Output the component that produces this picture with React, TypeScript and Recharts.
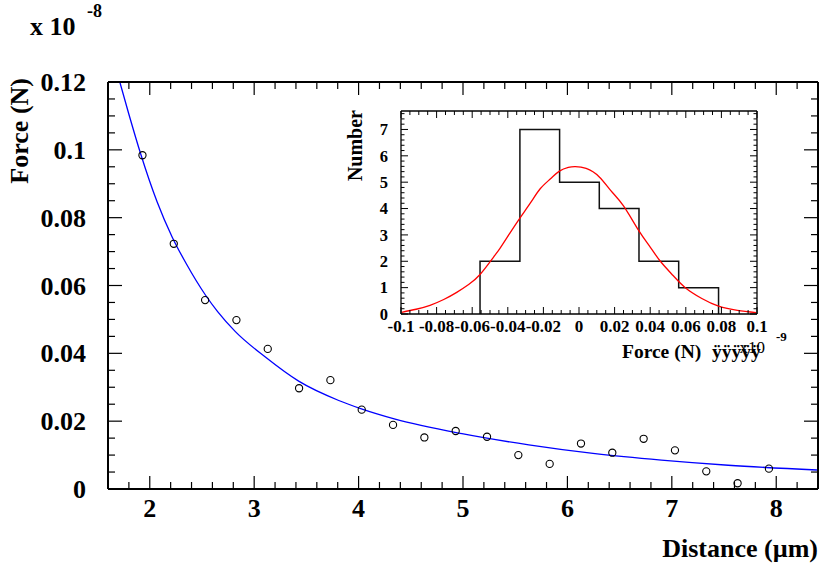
import React from 'react';
import { ComposedChart, Line, Scatter, XAxis, YAxis, Label } from 'recharts';

const FONT = '"Liberation Serif", "Times New Roman", Times, serif';

// ---------- Main chart data ----------
const distance = [1.93, 2.23, 2.53, 2.83, 3.13, 3.43, 3.73, 4.03, 4.33, 4.63, 4.93, 5.23, 5.53, 5.83, 6.13, 6.43, 6.73, 7.03, 7.33, 7.63, 7.93];
const force = [0.0984, 0.0723, 0.0557, 0.0498, 0.0413, 0.0297, 0.0321, 0.0234, 0.0189, 0.0152, 0.0171, 0.0154, 0.0100, 0.0074, 0.0134, 0.0107, 0.0148, 0.0114, 0.0052, 0.0017, 0.0060];
const fitDistance = [1.713, 1.8, 1.911, 2.07, 2.213, 2.35, 2.533, 2.65, 2.82, 3.107, 3.426, 3.81, 4.02, 4.35, 4.99, 5.63, 6.265, 6.9, 7.54, 8.39];
const fitForce = [0.12, 0.1105, 0.099, 0.0847, 0.0744, 0.0664, 0.0572, 0.0523, 0.0464, 0.0389, 0.0318, 0.0261, 0.0237, 0.0206, 0.0163, 0.013, 0.0104, 0.0085, 0.007, 0.0056];

const mainXTicks = [1.6, 1.8, 2, 2.2, 2.4, 2.6, 2.8, 3, 3.2, 3.4, 3.6, 3.8, 4, 4.2, 4.4, 4.6, 4.8, 5, 5.2, 5.4, 5.6, 5.8, 6, 6.2, 6.4, 6.6, 6.8, 7, 7.2, 7.4, 7.6, 7.8, 8, 8.2, 8.4];
const mainXMajor = [2, 3, 4, 5, 6, 7, 8];
const mainYTicks = [0, 0.005, 0.01, 0.015, 0.02, 0.025, 0.03, 0.035, 0.04, 0.045, 0.05, 0.055, 0.06, 0.065, 0.07, 0.075, 0.08, 0.085, 0.09, 0.095, 0.1, 0.105, 0.11, 0.115, 0.12];
const mainYMajor = [0, 0.02, 0.04, 0.06, 0.08, 0.1, 0.12];

// ---------- Inset histogram data ----------
const binEdges = [-0.0556, -0.0332, -0.0109, 0.0114, 0.0337, 0.056, 0.0784];
const binCounts = [2, 7, 5, 4, 2, 1];
const gaussX = [-0.0996, -0.0915, -0.0837, -0.076, -0.0687, -0.062, -0.0556, -0.0481, -0.0443, -0.039, -0.0331, -0.027, -0.0218, -0.016, -0.011, -0.006, -0.0021, 0.004, 0.0114, 0.018, 0.025, 0.0335, 0.04, 0.0457, 0.053, 0.0597, 0.069, 0.0784, 0.089, 0.0996];
const gaussY = [0.065, 0.18, 0.33, 0.55, 0.82, 1.12, 1.5, 2.15, 2.5, 3.05, 3.65, 4.24, 4.75, 5.13, 5.42, 5.56, 5.59, 5.52, 5.2, 4.67, 4.1, 3.17, 2.54, 2.0, 1.45, 1.0, 0.59, 0.3, 0.14, 0.055];

const insetXTicks = [-0.1, -0.095, -0.09, -0.085, -0.08, -0.075, -0.07, -0.065, -0.06, -0.055, -0.05, -0.045, -0.04, -0.035, -0.03, -0.025, -0.02, -0.015, -0.01, -0.005, 0, 0.005, 0.01, 0.015, 0.02, 0.025, 0.03, 0.035, 0.04, 0.045, 0.05, 0.055, 0.06, 0.065, 0.07, 0.075, 0.08, 0.085, 0.09, 0.095, 0.1];
const insetXMajor = [-0.1, -0.08, -0.06, -0.04, -0.02, 0, 0.02, 0.04, 0.06, 0.08, 0.1];
const insetYTicks = [0, 0.2, 0.4, 0.6, 0.8, 1, 1.2, 1.4, 1.6, 1.8, 2, 2.2, 2.4, 2.6, 2.8, 3, 3.2, 3.4, 3.6, 3.8, 4, 4.2, 4.4, 4.6, 4.8, 5, 5.2, 5.4, 5.6, 5.8, 6, 6.2, 6.4, 6.6, 6.8, 7, 7.2, 7.4, 7.6];
const insetYMajor = [0, 1, 2, 3, 4, 5, 6, 7];

// ---------- derived tables ----------
const points = distance.map((d, i) => ({ x: d, y: force[i] }));
const fit = fitDistance.map((d, i) => ({ x: d, y: fitForce[i] }));
const histData = [
  { x: binEdges[0], y: 0 },
  ...binCounts.map((c, i) => ({ x: binEdges[i], y: c })),
  { x: binEdges[binEdges.length - 1], y: 0 },
];
const gauss = gaussX.map((x, i) => ({ x, y: gaussY[i] }));

const fmt = (v: number) => String(Number(v.toFixed(4)));

type Side = 'bottom' | 'top' | 'left' | 'right';
function makeTick(side: Side, majors: number[], majorLen: number, minorLen: number, opts: { label?: boolean; fontSize?: number; gap?: number; sw?: number } = {}) {
  const { label = false, fontSize = 20, gap = 20, sw = 1.2 } = opts;
  return (props: any) => {
    const { x, y, payload } = props;
    const v = payload.value;
    const major = majors.some((m) => Math.abs(m - v) < 1e-9);
    const len = major ? majorLen : minorLen;
    let line: any = null;
    let text: any = null;
    if (side === 'bottom') {
      line = <line x1={x} y1={y} x2={x} y2={y - len} stroke="#000" strokeWidth={sw} />;
      if (label && major)
        text = (
          <text x={x} y={y + gap} textAnchor="middle" fontFamily={FONT} fontWeight="bold" fontSize={fontSize} fill="#000">
            {fmt(v)}
          </text>
        );
    } else if (side === 'top') {
      line = <line x1={x} y1={y} x2={x} y2={y + len} stroke="#000" strokeWidth={sw} />;
    } else if (side === 'left') {
      line = <line x1={x} y1={y} x2={x + len} y2={y} stroke="#000" strokeWidth={sw} />;
      if (label && major)
        text = (
          <text x={x - gap} y={y + fontSize * 0.35} textAnchor="end" fontFamily={FONT} fontWeight="bold" fontSize={fontSize} fill="#000">
            {fmt(v)}
          </text>
        );
    } else {
      line = <line x1={x} y1={y} x2={x - len} y2={y} stroke="#000" strokeWidth={sw} />;
    }
    return (
      <g>
        {line}
        {text}
      </g>
    );
  };
}

const MainBottomTick = makeTick('bottom', mainXMajor, 13, 7, { label: true, fontSize: 26, gap: 28 });
const MainTopTick = makeTick('top', mainXMajor, 13, 7);
const MainLeftTick = makeTick('left', mainYMajor, 14, 7, { label: true, fontSize: 26, gap: 22 });
const MainRightTick = makeTick('right', mainYMajor, 14, 7);

const InsetBottomTick = makeTick('bottom', insetXMajor, 7, 4, { label: true, fontSize: 17, gap: 18, sw: 1 });
const InsetTopTick = makeTick('top', insetXMajor, 7, 4, { sw: 1 });
const InsetLeftTick = makeTick('left', insetYMajor, 7, 3.5, { label: true, fontSize: 16.5, gap: 13, sw: 1 });
const InsetRightTick = makeTick('right', insetYMajor, 7, 3.5, { sw: 1 });

const bold = { fontFamily: FONT, fontWeight: 'bold' as const, fill: '#000' };

const MainXTitle = (p: any) => {
  const vb = p.viewBox;
  return (
    <text x={vb.x + vb.width} y={vb.y + 68} textAnchor="end" fontSize={26} {...bold}>
      Distance (µm)
    </text>
  );
};
const MainYTitle = (p: any) => {
  const vb = p.viewBox;
  return (
    <g>
      <text transform={`translate(28, ${vb.y - 4}) rotate(-90)`} textAnchor="end" fontSize={26} {...bold}>
        Force (N)
      </text>
      <text x={30} y={35} fontSize={26} {...bold}>
        x 10
      </text>
      <text x={87} y={17} fontSize={18} {...bold}>
        -8
      </text>
    </g>
  );
};

// inset svg is offset by (330, 100) on the page
const InsetXTitle = (p: any) => {
  const vb = p.viewBox;
  const by = vb.y + 44;
  return (
    <g>
      <text x={292} y={by} fontSize={19.5} {...bold}>
        Force (N)
      </text>
      <text x={382} y={by} fontSize={19.5} {...bold}>
        ÿÿÿÿÿ
      </text>
      <text x={435} y={by - 5} textAnchor="end" fontSize={17} fontFamily={FONT} fill="#000">
        x10
      </text>
      <text x={446} y={by - 17} fontSize={13} {...bold}>
        -9
      </text>
    </g>
  );
};
const InsetYTitle = (p: any) => {
  const vb = p.viewBox;
  return (
    <text transform={`translate(32, ${vb.y - 1}) rotate(-90)`} textAnchor="end" fontSize={20} {...bold}>
      Number
    </text>
  );
};

export default function App() {
  return (
    <div style={{ position: 'absolute', left: 0, top: 0, width: 820, height: 569, background: '#fff' }}>
      <div style={{ position: 'absolute', left: 0, top: 0 }}>
        <ComposedChart width={820} height={569} margin={{ top: 81, right: 1, bottom: 0, left: 0 }}>
          <XAxis
            xAxisId="b"
            dataKey="x"
            type="number"
            domain={[1.6, 8.4]}
            allowDataOverflow
            ticks={mainXTicks}
            interval={0}
            tickSize={0}
            tickMargin={0}
            tickLine={false}
            tick={MainBottomTick}
            axisLine={{ stroke: '#000', strokeWidth: 2 }}
            height={80}
            orientation="bottom"
          >
            <Label content={MainXTitle} />
          </XAxis>
          <XAxis
            xAxisId="t"
            dataKey="x"
            type="number"
            domain={[1.6, 8.4]}
            allowDataOverflow
            ticks={mainXTicks}
            interval={0}
            tickSize={0}
            tickMargin={0}
            tickLine={false}
            tick={MainTopTick}
            axisLine={{ stroke: '#000', strokeWidth: 2 }}
            height={1}
            orientation="top"
          />
          <YAxis
            yAxisId="l"
            type="number"
            domain={[0, 0.12]}
            allowDataOverflow
            ticks={mainYTicks}
            interval={0}
            tickSize={0}
            tickMargin={0}
            tickLine={false}
            tick={MainLeftTick}
            axisLine={{ stroke: '#000', strokeWidth: 2 }}
            width={108}
            orientation="left"
          >
            <Label content={MainYTitle} />
          </YAxis>
          <YAxis
            yAxisId="r"
            type="number"
            domain={[0, 0.12]}
            allowDataOverflow
            ticks={mainYTicks}
            interval={0}
            tickSize={0}
            tickMargin={0}
            tickLine={false}
            tick={MainRightTick}
            axisLine={{ stroke: '#000', strokeWidth: 2 }}
            width={1}
            orientation="right"
          />
          <Line
            xAxisId="b"
            yAxisId="l"
            data={fit}
            dataKey="y"
            type="monotone"
            stroke="#0000ff"
            strokeWidth={1.3}
            dot={false}
            activeDot={false}
            isAnimationActive={false}
          />
          <Scatter
            xAxisId="b"
            yAxisId="l"
            data={points}
            dataKey="y"
            isAnimationActive={false}
            shape={(p: any) => <circle cx={p.cx} cy={p.cy} r={3.6} fill="none" stroke="#000" strokeWidth={1.1} />}
          />
        </ComposedChart>
      </div>
      <div style={{ position: 'absolute', left: 330, top: 100 }}>
        <ComposedChart width={470} height={270} margin={{ top: 10, right: 42, bottom: 0, left: 0 }}>
          <XAxis
            xAxisId="b"
            dataKey="x"
            type="number"
            domain={[-0.1, 0.1]}
            allowDataOverflow
            ticks={insetXTicks}
            interval={0}
            tickSize={0}
            tickMargin={0}
            tickLine={false}
            tick={InsetBottomTick}
            axisLine={{ stroke: '#000', strokeWidth: 1.3 }}
            height={56}
            orientation="bottom"
          >
            <Label content={InsetXTitle} />
          </XAxis>
          <XAxis
            xAxisId="t"
            dataKey="x"
            type="number"
            domain={[-0.1, 0.1]}
            allowDataOverflow
            ticks={insetXTicks}
            interval={0}
            tickSize={0}
            tickMargin={0}
            tickLine={false}
            tick={InsetTopTick}
            axisLine={{ stroke: '#000', strokeWidth: 1.3 }}
            height={1}
            orientation="top"
          />
          <YAxis
            yAxisId="l"
            type="number"
            domain={[0, 7.7]}
            allowDataOverflow
            ticks={insetYTicks}
            interval={0}
            tickSize={0}
            tickMargin={0}
            tickLine={false}
            tick={InsetLeftTick}
            axisLine={{ stroke: '#000', strokeWidth: 1.3 }}
            width={71}
            orientation="left"
          >
            <Label content={InsetYTitle} />
          </YAxis>
          <YAxis
            yAxisId="r"
            type="number"
            domain={[0, 7.7]}
            allowDataOverflow
            ticks={insetYTicks}
            interval={0}
            tickSize={0}
            tickMargin={0}
            tickLine={false}
            tick={InsetRightTick}
            axisLine={{ stroke: '#000', strokeWidth: 1.3 }}
            width={1}
            orientation="right"
          />
          <Line
            xAxisId="b"
            yAxisId="l"
            data={histData}
            dataKey="y"
            type="stepAfter"
            stroke="#111"
            strokeWidth={1.5}
            dot={false}
            activeDot={false}
            isAnimationActive={false}
          />
          <Line
            xAxisId="b"
            yAxisId="l"
            data={gauss}
            dataKey="y"
            type="natural"
            stroke="#ff0000"
            strokeWidth={1.3}
            dot={false}
            activeDot={false}
            isAnimationActive={false}
          />
        </ComposedChart>
      </div>
    </div>
  );
}
